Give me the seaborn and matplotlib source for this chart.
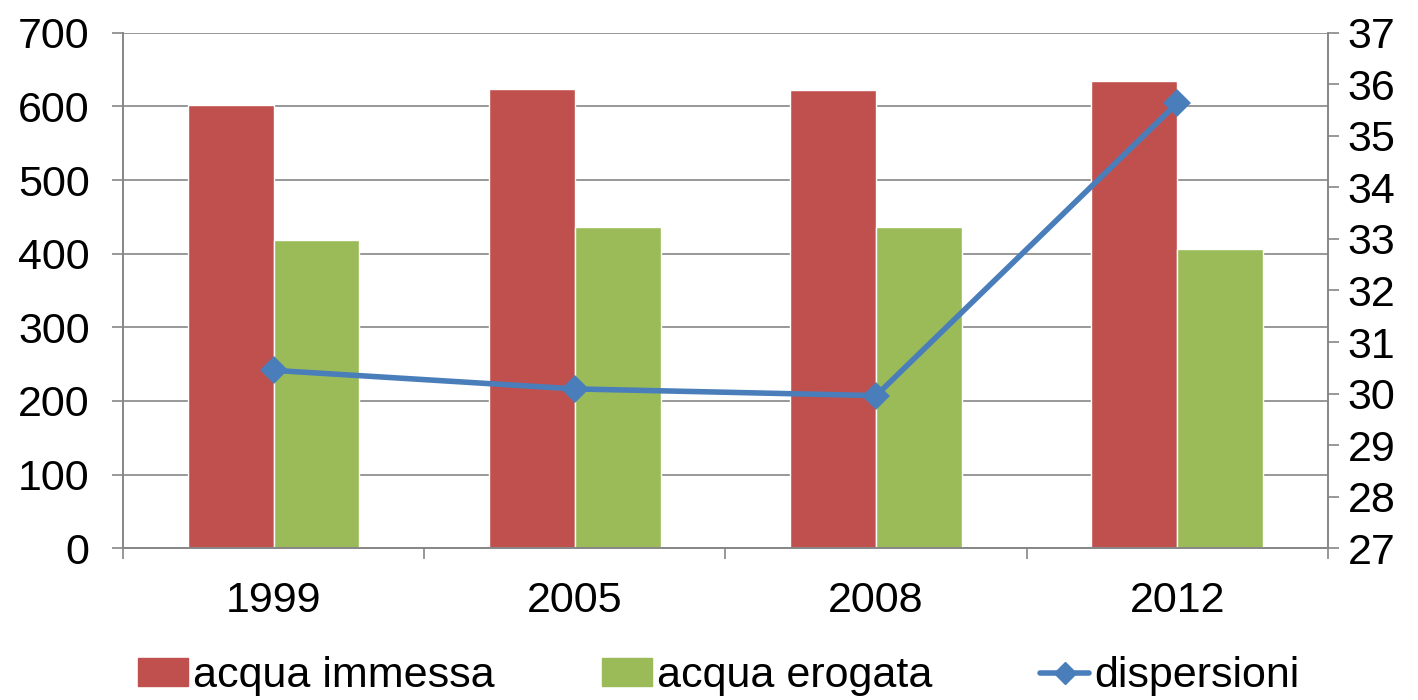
import pandas as pd
import seaborn as sns
import matplotlib.pyplot as plt
from matplotlib.patches import Patch
from matplotlib.lines import Line2D

# dati
anni = ['1999', '2005', '2008', '2012']
acqua_immessa = [602, 624, 622, 634]
acqua_erogata = [418, 436, 436, 407]
dispersioni = [30.45, 30.09, 29.96, 35.64]

serie = ['acqua immessa', 'acqua erogata']
colori = ['#C0504D', '#9BBB59']
col_linea = '#4A7EBB'
grigio = '#868686'

df = pd.DataFrame({
    'anno': anni * 2,
    'valore': acqua_immessa + acqua_erogata,
    'serie': [serie[0]] * 4 + [serie[1]] * 4,
})

sns.set_style('white')
plt.rcParams['font.family'] = ['Liberation Sans', 'DejaVu Sans']
plt.rcParams['text.color'] = 'black'

fig = plt.figure(figsize=(14.18, 7.0), dpi=100)
ax = fig.add_axes([0.0867, 0.217, 0.8498, 0.736])

sns.barplot(data=df, x='anno', y='valore', hue='serie', palette=colori,
            width=0.57, saturation=1, ax=ax, legend=False)
ax.set_ylim(0, 700)
ax.set_yticks(range(0, 701, 100))
ax.set_xlim(-0.5, 3.5)
ax.grid(axis='y', color=grigio, lw=1.2)
ax.set_axisbelow(True)
ax.set_xlabel('')
ax.set_ylabel('')

# linea dispersioni sull'asse destro
ax2 = ax.twinx()
sns.pointplot(x=anni, y=dispersioni, ax=ax2, color=col_linea, errorbar=None,
              markers='D', markersize=11, linewidth=4)
ax2.set_ylim(27, 37)
ax2.set_yticks(range(27, 38))
ax2.set_xlim(-0.5, 3.5)
ax2.grid(False)

for a in (ax, ax2):
    for s in a.spines.values():
        s.set_color(grigio)
        s.set_linewidth(1.2)
    a.spines['top'].set_visible(False)

ax.tick_params(axis='y', left=True, length=8, width=1.2, color=grigio,
               labelcolor='black', labelsize=31, pad=16)
ax.tick_params(axis='x', which='major', length=0, labelcolor='black',
               labelsize=31, pad=24)
ax.set_xticks([-0.5, 0.5, 1.5, 2.5, 3.5], minor=True)
ax.tick_params(axis='x', which='minor', bottom=True, length=8, width=1.2,
               color=grigio)
ax2.tick_params(axis='y', right=True, length=8, width=1.2, color=grigio,
                labelcolor='black', labelsize=31, pad=6)

handles = [
    Patch(color=colori[0]),
    Patch(color=colori[1]),
    Line2D([], [], color=col_linea, lw=4, marker='D', markersize=11),
]
fig.legend(handles, ['acqua immessa', 'acqua erogata', 'dispersioni'],
           loc='lower center', bbox_to_anchor=(0.507, -0.05), ncol=3,
           frameon=False, fontsize=31, handlelength=1.15, handleheight=0.6,
           handletextpad=0.12, columnspacing=2.5, labelcolor='black')

plt.savefig('out.png', dpi=100)
